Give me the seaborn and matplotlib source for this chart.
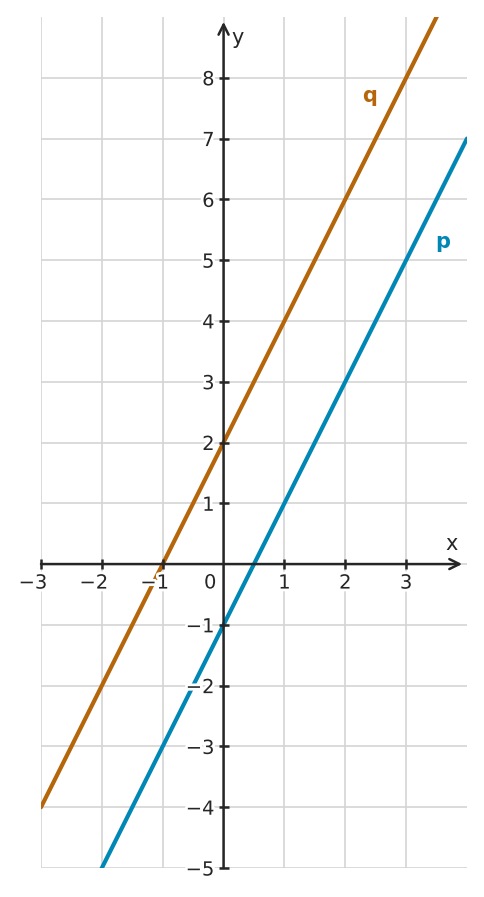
import numpy as np
import pandas as pd
import seaborn as sns
import matplotlib.pyplot as plt
import matplotlib.patheffects as pe
from matplotlib.transforms import ScaledTranslation

# two parallel lines, slope 2
x_vals = [-3, 4]
q_vals = [-4, 10]   # q: y = 2x + 2
p_vals = [-7, 7]    # p: y = 2x - 1

x_ticks = [-3, -2, -1, 1, 2, 3]
y_ticks = [-5, -4, -3, -2, -1, 1, 2, 3, 4, 5, 6, 7, 8]

q_color = '#b5650a'
p_color = '#0087b5'
ink = '#262626'

sns.set_theme(style='white')
plt.rcParams['font.family'] = ['DejaVu Sans']

df = pd.DataFrame({
    'x': x_vals * 2,
    'y': q_vals + p_vals,
    'line': ['q'] * 2 + ['p'] * 2,
})

fig = plt.figure(figsize=(4.85, 8.97), dpi=100)
ax = fig.add_axes([41 / 485, 29 / 897, 426 / 485, 851 / 897])

# grid drawn by hand so it stays under the lines
for gx in range(-3, 4):
    ax.axvline(gx, color='#d4d4d4', lw=1.2, zorder=0)
for gy in range(-5, 9):
    ax.axhline(gy, color='#d4d4d4', lw=1.2, zorder=0)

sns.lineplot(data=df, x='x', y='y', hue='line', palette={'q': q_color, 'p': p_color},
             lw=3, legend=False, ax=ax, zorder=2)

ax.set_xlim(-3, 4)
ax.set_ylim(-5, 9)

for side in ['top', 'right']:
    ax.spines[side].set_visible(False)
ax.spines['left'].set_position('zero')
ax.spines['bottom'].set_position('zero')
ax.spines['left'].set_color('none')
ax.spines['bottom'].set_color('none')
ax.set_axisbelow(False)

# axis lines with open arrow heads
ax.annotate('', xy=(3.92, 0), xytext=(-3, 0),
            arrowprops=dict(arrowstyle='->', color=ink, lw=1.8, mutation_scale=18,
                            shrinkA=0, shrinkB=0), zorder=3)
ax.annotate('', xy=(0, 8.92), xytext=(0, -5),
            arrowprops=dict(arrowstyle='->', color=ink, lw=1.8, mutation_scale=18,
                            shrinkA=0, shrinkB=0), zorder=3)

halo = [pe.withStroke(linewidth=4, foreground='white')]


def fmt(t):
    return f'\u2212{-t}' if t < 0 else str(t)


ax.set_xticks(x_ticks)
ax.set_yticks(y_ticks)
ax.set_xticklabels([])
ax.set_yticklabels([fmt(t) for t in y_ticks])
ax.tick_params(axis='both', direction='inout', length=7, width=1.8, color=ink,
               labelsize=14, labelcolor=ink, bottom=True, left=True)
ax.tick_params(axis='y', pad=3)
for lab in ax.get_yticklabels():
    lab.set_path_effects(halo)
    lab.set_zorder(4)

# x tick labels: digit centred on the tick, minus sign hangs to the left
for t in x_ticks:
    dx = -8 / 100 if t < 0 else 0
    tr = ax.transData + ScaledTranslation(dx, -19 / 100, fig.dpi_scale_trans)
    ax.text(t, 0, fmt(t), transform=tr, fontsize=14, color=ink, ha='center', va='center',
            path_effects=halo, zorder=4)

ax.set_xlabel('')
ax.set_ylabel('')

ax.text(-0.12, -0.31, '0', fontsize=14, color=ink, ha='right', va='center',
        path_effects=halo, zorder=4)
ax.text(3.74, 0.33, 'x', fontsize=15, color=ink, ha='center', va='center')
ax.text(0.23, 8.65, 'y', fontsize=15, color=ink, ha='center', va='center')

ax.text(2.4, 7.7, 'q', fontsize=15, fontweight='bold', color=q_color, ha='center', va='center')
ax.text(3.6, 5.3, 'p', fontsize=15, fontweight='bold', color=p_color, ha='center', va='center')

fig.savefig('out.png', dpi=100)
